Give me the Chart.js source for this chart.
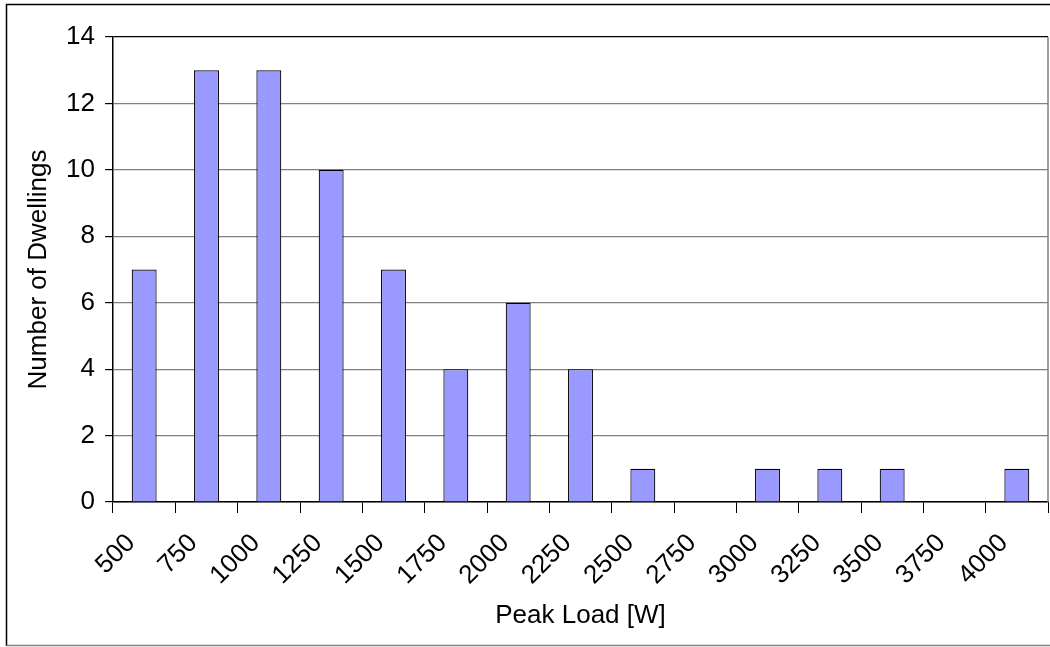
<!DOCTYPE html>
<html>
<head>
<meta charset="utf-8">
<script src="https://cdn.jsdelivr.net/npm/chart.js@4/dist/chart.umd.min.js"></script>
<style>
  html, body { margin: 0; padding: 0; background: #fff; }
  #wrap { width: 1050px; height: 647px; position: relative; }
</style>
</head>
<body>
<div id="wrap"><canvas id="chartCanvas"></canvas></div>
<script>
const loadLabels = ["500", "750", "1000", "1250", "1500", "1750", "2000", "2250",
                    "2500", "2750", "3000", "3250", "3500", "3750", "4000"];
const dwellingCounts = [7, 13, 13, 10, 7, 4, 6, 4, 1, 0, 1, 1, 1, 0, 1];
const yTicks = [0, 2, 4, 6, 8, 10, 12, 14];

const fontFamily = "'Liberation Sans', Arial, sans-serif";

// outer frame + right edge of the plot area
const framePlugin = {
    id: "frame",
    afterDraw(chart) {
        const c = chart.ctx;
        const a = chart.chartArea;
        c.save();
        c.lineWidth = 1.5;
        c.strokeStyle = "#000";
        c.beginPath();
        c.moveTo(6.5, 646);
        c.lineTo(6.5, 4.5);
        c.lineTo(1050, 4.5);
        c.stroke();
        c.strokeStyle = "#808080";
        c.beginPath();
        c.moveTo(6.5, 645.5);
        c.lineTo(1050, 645.5);
        c.stroke();
        c.beginPath();
        c.moveTo(a.right, a.top);
        c.lineTo(a.right, a.bottom);
        c.stroke();
        c.restore();
    }
};

const ctx = document.getElementById("chartCanvas").getContext("2d");
new Chart(ctx, {
    type: "bar",
    data: {
        labels: loadLabels,
        datasets: [{
            label: "Number of Dwellings",
            data: dwellingCounts,
            backgroundColor: "#9999FF",
            borderColor: "#000",
            borderWidth: 1.2,
            categoryPercentage: 1.0,
            barPercentage: 0.4
        }]
    },
    options: {
        responsive: true,
        maintainAspectRatio: false,
        animation: false,
        layout: { padding: { top: 37, right: 2, left: 0, bottom: 0 } },
        plugins: {
            legend: { display: false },
            tooltip: { enabled: false }
        },
        scales: {
            x: {
                offset: true,
                afterFit: s => {
                    s.height = 145;
                    s.paddingLeft = 0;
                    s.paddingRight = 0;
                },
                grid: { drawOnChartArea: false, drawTicks: true, tickLength: 11, tickColor: "#000", offset: true },
                border: { color: "#000", width: 1.5 },
                ticks: {
                    color: "#000",
                    font: { family: fontFamily, size: 26 },
                    maxRotation: 45,
                    minRotation: 45,
                    padding: 15,
                    labelOffset: -13,
                    autoSkip: false
                },
                title: {
                    display: true,
                    text: "Peak Load [W]",
                    color: "#000",
                    font: { family: fontFamily, size: 26 },
                    padding: { top: 0, bottom: 16 }
                }
            },
            y: {
                min: 0,
                max: 14,
                afterFit: s => { s.width = 113; },
                afterBuildTicks: s => { s.ticks = yTicks.map(v => ({ value: v })); },
                grid: {
                    color: c => (c.tick && c.tick.value === 14 ? "#000" : "#808080"),
                    lineWidth: 1.2,
                    tickLength: 8,
                    tickColor: "#000"
                },
                border: { color: "#000", width: 1.5 },
                ticks: {
                    color: "#000",
                    font: { family: fontFamily, size: 26 },
                    padding: 10
                },
                title: {
                    display: true,
                    text: "Number of Dwellings",
                    color: "#000",
                    font: { family: fontFamily, size: 26 },
                    padding: { top: 23, bottom: 0 }
                }
            }
        }
    },
    plugins: [framePlugin]
});
</script>
</body>
</html>
